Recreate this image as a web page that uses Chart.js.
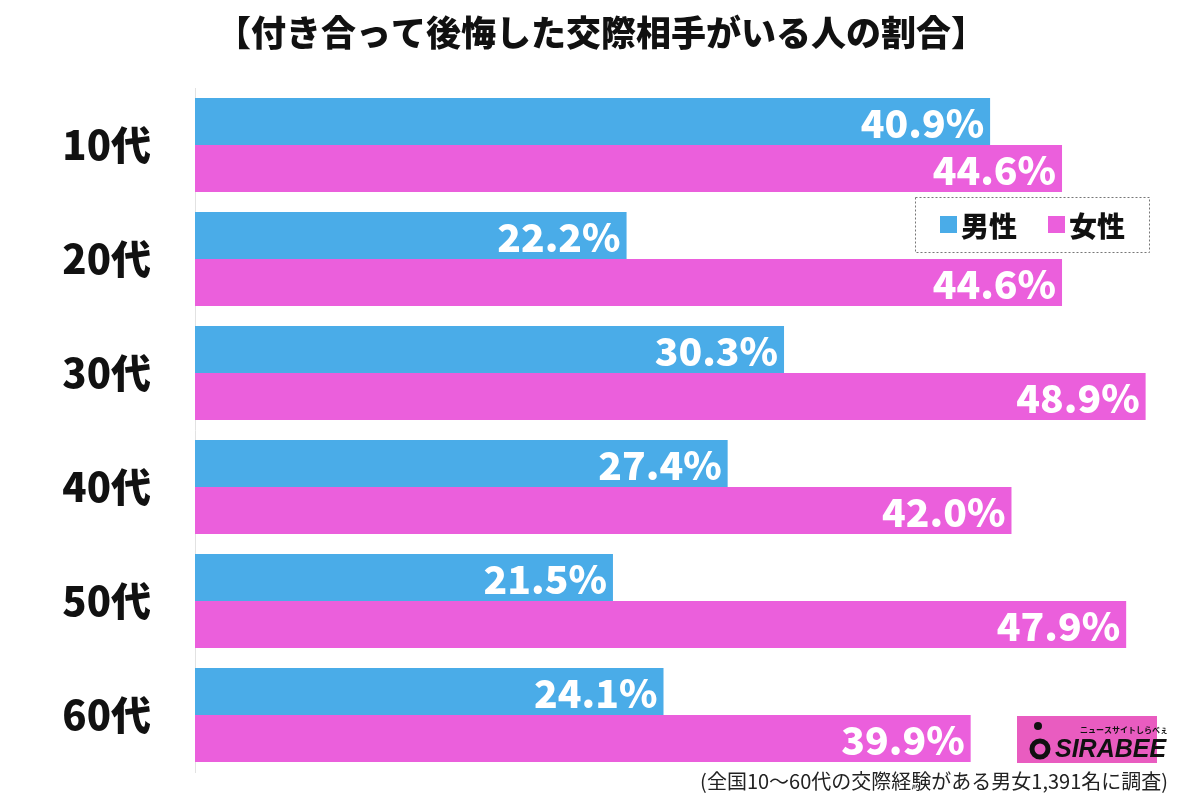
<!DOCTYPE html>
<html>
<head>
<meta charset="utf-8">
<script src="https://cdn.jsdelivr.net/npm/chart.js@4"></script>
<style>
  html, body { margin: 0; padding: 0; background: #fff; }
  #wrap { width: 1200px; height: 800px; position: relative; }
</style>
</head>
<body>
<div id="wrap"><canvas id="chart" width="1200" height="800"></canvas></div>
<script>
const chartTitle = '【付き合って後悔した交際相手がいる人の割合】';
const footNote = '(全国10～60代の交際経験がある男女1,391名に調査)';
const ageGroups = ['10代', '20代', '30代', '40代', '50代', '60代'];
const maleValues = [40.9, 22.2, 30.3, 27.4, 21.5, 24.1];
const femaleValues = [44.6, 44.6, 48.9, 42.0, 47.9, 39.9];
const seriesNames = ['男性', '女性'];

const blue = '#4aace8';
const pink = '#eb5fdc';
const jp = '"Noto Sans CJK JP", "Noto Sans", sans-serif';

// value labels inside the bar ends
const barLabels = {
  id: 'barLabels',
  afterDatasetsDraw(chart) {
    const ctx = chart.ctx;
    ctx.save();
    ctx.font = '900 39px ' + jp;
    ctx.fillStyle = '#fff';
    ctx.textAlign = 'right';
    ctx.textBaseline = 'middle';
    chart.data.datasets.forEach((ds, i) => {
      chart.getDatasetMeta(i).data.forEach((bar, j) => {
        ctx.fillText(ds.data[j].toFixed(1) + '%', bar.x - 6, bar.y + 2);
      });
    });
    ctx.restore();
  }
};

// title, legend box, logo and note
const decorations = {
  id: 'decorations',
  afterDraw(chart) {
    const ctx = chart.ctx;
    ctx.save();
    ctx.fillStyle = '#111';
    ctx.textAlign = 'center';
    ctx.textBaseline = 'middle';
    ctx.font = '900 35px ' + jp;
    ctx.fillText(chartTitle, 601, 33);

    // legend
    ctx.fillStyle = '#fff';
    ctx.fillRect(915, 197, 235, 56);
    ctx.setLineDash([2, 2]);
    ctx.strokeStyle = '#777';
    ctx.lineWidth = 1;
    ctx.strokeRect(915.5, 197.5, 234, 55);
    ctx.setLineDash([]);
    ctx.textAlign = 'left';
    ctx.font = '900 28px ' + jp;
    const colors = [blue, pink];
    const xs = [940, 1048];
    seriesNames.forEach((name, i) => {
      ctx.fillStyle = colors[i];
      ctx.fillRect(xs[i], 216, 17, 17);
      ctx.fillStyle = '#111';
      ctx.fillText(name, xs[i] + 21, 226);
    });

    // logo
    ctx.fillStyle = '#e95cc0';
    ctx.fillRect(1017, 716, 140, 47);
    ctx.fillStyle = '#111';
    ctx.font = 'bold 8px ' + jp;
    ctx.fillText('ニュースサイトしらべぇ', 1080, 730);
    ctx.font = 'italic bold 25px "Liberation Sans", sans-serif';
    ctx.fillText('SIRABEE', 1055, 750);
    ctx.beginPath();
    ctx.arc(1038, 726, 4, 0, Math.PI * 2);
    ctx.fill();
    ctx.beginPath();
    ctx.arc(1040, 749, 8, 0, Math.PI * 2);
    ctx.lineWidth = 5;
    ctx.strokeStyle = '#111';
    ctx.stroke();

    // note
    ctx.textAlign = 'right';
    ctx.font = '20px ' + jp;
    ctx.fillStyle = '#222';
    ctx.fillText(footNote, 1168, 781);
    ctx.restore();
  }
};

new Chart(document.getElementById('chart').getContext('2d'), {
  type: 'bar',
  data: {
    labels: ageGroups,
    datasets: [
      { label: seriesNames[0], data: maleValues, backgroundColor: blue, borderWidth: 0 },
      { label: seriesNames[1], data: femaleValues, backgroundColor: pink, borderWidth: 0 }
    ]
  },
  options: {
    indexAxis: 'y',
    responsive: false,
    animation: false,
    layout: { padding: { top: 88, right: 33, bottom: 28, left: 0 } },
    datasets: { bar: { categoryPercentage: 0.825, barPercentage: 1.0 } },
    plugins: {
      legend: { display: false },
      tooltip: { enabled: false }
    },
    scales: {
      x: { display: false, min: 0, max: 50 },
      y: {
        afterFit(scale) {
          scale.width = 195;
          scale.paddingTop = 0;
          scale.paddingBottom = 0;
        },
        grid: { display: false, drawTicks: false },
        border: { display: true, color: '#e2e2e2', width: 1 },
        ticks: {
          padding: 44,
          color: '#111',
          font: { family: jp, size: 40, weight: '900' }
        }
      }
    }
  },
  plugins: [barLabels, decorations]
});
</script>
</body>
</html>
